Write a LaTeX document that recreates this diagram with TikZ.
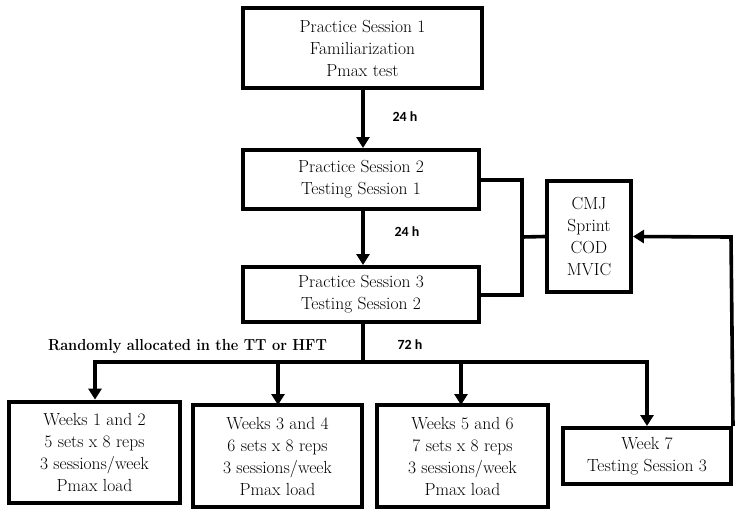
\documentclass[tikz,border=0pt]{standalone}
\usepackage{fontspec}
\newfontfamily\rafont{Latin Modern Roman}[FakeStretch=0.91]
\newfontfamily\labelfont{Carlito}
\usetikzlibrary{arrows.meta}
\begin{document}
\begin{tikzpicture}[x=1pt,y=-1pt,
  box/.style={draw=black, line width=4pt, fill=white, inner sep=0pt, align=center,
    font=\fontsize{17.5}{22}\selectfont},
  wbox/.style={box, line width=4.8pt},
  conn/.style={line width=3.6pt, line cap=rect},
  arr/.style={line width=3.6pt, -{Triangle[width=13pt,length=11pt]}},
  hlabel/.style={font=\labelfont\bfseries\fontsize{14}{15}\selectfont, inner sep=0pt}
]
\useasboundingbox (0,0) rectangle (742,517);

\node[box, minimum width=239pt, minimum height=80pt] (b1) at (362.5,48)
  {Practice Session 1\\Familiarization\\Pmax test};
\node[box, minimum width=236pt, minimum height=59pt] (b2) at (361,179.5)
  {Practice Session 2\\Testing Session 1};
\node[box, minimum width=236pt, minimum height=55pt] (b3) at (361,294.5)
  {Practice Session 3\\Testing Session 2};
\node[box, minimum width=84pt, minimum height=111pt] (cmj) at (589,236.5)
  {CMJ\\Sprint\\COD\\MVIC};
\node[wbox, minimum width=171pt, minimum height=101pt] (w1) at (94.5,452.5)
  {Weeks 1 and 2\\5 sets x 8 reps\\3 sessions/week\\Pmax load};
\node[wbox, minimum width=169pt, minimum height=102pt] (w2) at (277.5,456)
  {Weeks 3 and 4\\6 sets x 8 reps\\3 sessions/week\\Pmax load};
\node[wbox, minimum width=171pt, minimum height=102pt] (w3) at (462.5,456)
  {Weeks 5 and 6\\7 sets x 8 reps\\3 sessions/week\\Pmax load};
\node[box, minimum width=168pt, minimum height=56pt] (w7) at (647,456)
  {Week 7\\Testing Session 3};

\coordinate (j) at (363,362);
\coordinate (jl) at (95,362);
\coordinate (jr) at (647,362);
\coordinate (bt) at (522,180);
\coordinate (bb) at (522,295);
\coordinate (bm) at (522,237);
\coordinate (rc) at (731,237);

\draw[arr] (b1.south -| 363,0) -- (b2.north -| 363,0);
\draw[arr] (b2.south -| 363,0) -- (b3.north -| 363,0);
\draw[conn] (b3.south -| j) -- (j);
\draw[conn] (jl) -- (jr);
\draw[arr] (jl) -- (jl |- w1.north);
\draw[arr] (278,362) -- (278,405);
\draw[arr] (461,362) -- (461,405);
\draw[arr] (jr) -- (w7.north);

\draw[conn] (b2.east |- bt) -- (bt) -- (bb) -- (b3.east |- bb);
\draw[conn] (bm) -- (cmj.west);
\draw[arr] (w7.north east) -- (rc) -- (cmj.east);

\node[hlabel] (l1) at (405,117) {24 h};
\node[hlabel] (l2) at (407,232) {24 h};
\node[hlabel] (l3) at (410,345) {72 h};
\node[font=\rafont\bfseries\fontsize{16}{18}\selectfont, inner sep=0pt] (ra) at (187.5,347)
  {Randomly allocated in the TT or HFT};
\end{tikzpicture}
\end{document}
